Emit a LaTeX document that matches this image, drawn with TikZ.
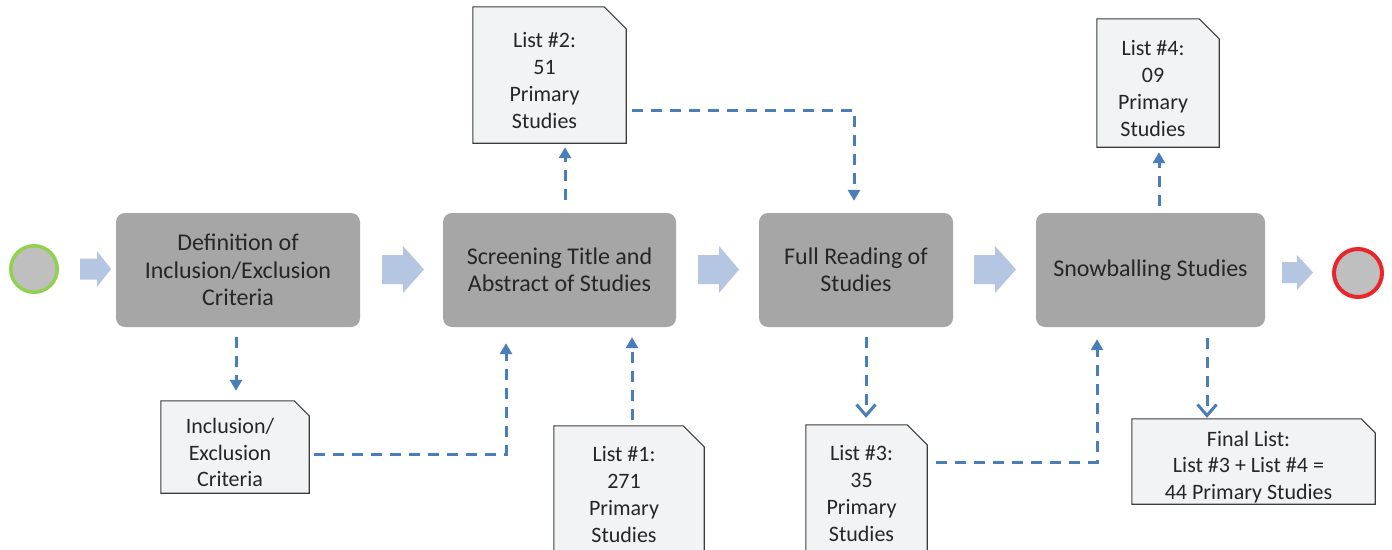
\documentclass[tikz,border=0pt]{standalone}
\usepackage{fontspec}
\setmainfont{Carlito}
\usetikzlibrary{arrows.meta,calc}
\pgfdeclarelayer{background}
\pgfsetlayers{background,main}

\definecolor{procfill}{HTML}{A6A6A6}
\definecolor{docfill}{HTML}{F2F3F5}
\definecolor{docline}{HTML}{3C3C3C}
\definecolor{flowblue}{HTML}{4A7EBB}
\definecolor{blockblue}{HTML}{B4C6E2}
\definecolor{startgreen}{HTML}{92D050}
\definecolor{endred}{HTML}{E8262B}
\definecolor{eventfill}{HTML}{BFBFBF}
\definecolor{inktext}{HTML}{262626}

\tikzset{
  procbox/.style={rectangle, rounded corners=9pt, fill=procfill, minimum height=114pt,
    inner sep=0pt, align=center, text=inktext, font=\fontsize{24}{27.5}\selectfont},
  docbox/.style={rectangle, inner sep=0pt},
  doctext/.style={align=center, text=inktext, font=\fontsize{22}{26.7}\selectfont,
    xshift=-5pt, yshift=-5.5pt, inner sep=0pt},
  docshape/.style={fill=docfill, draw=docline, line width=1.1pt, line join=miter},
  flow/.style={draw=flowblue, line width=3pt, dash pattern=on 11pt off 8pt,
    -{Triangle[length=11pt,width=12pt]}},
  flowopen/.style={draw=flowblue, line width=3pt, dash pattern=on 11pt off 8pt,
    -{Straight Barb[length=11pt,width=19pt]}},
  event/.style={circle, fill=eventfill, inner sep=0pt},
  blockarrow/.style={fill=blockblue},
}

% document symbol with a clipped top-right corner:
% name, centre x, centre y, width, height, corner size, text
\newcommand\listdoc[7]{%
  \node[docbox, minimum width=#4, minimum height=#5,
        label={[doctext, name=#1-t]center:{#7}}] (#1) at (#2,#3) {};
  \begin{pgfonlayer}{background}
    \path[docshape] (#1.south west) -- (#1.north west) -- ([xshift=-#6]#1.north east)
      -- ([yshift=-#6]#1.north east) -- (#1.south east) -- cycle;
  \end{pgfonlayer}
}

% block arrow: tail x, tip x, head start x, centre y, shaft half height, head half height
\newcommand\blockarr[6]{%
  \fill[blockarrow] (#1,#4-#5) -- (#3,#4-#5) -- (#3,#4-#6) -- (#2,#4)
    -- (#3,#4+#6) -- (#3,#4+#5) -- (#1,#4+#5) -- cycle;
}

\begin{document}
\begin{tikzpicture}[x=1pt, y=-1pt]
\useasboundingbox (0,0) rectangle (1392,549);
\clip (0,0) rectangle (1392,549);
\begin{pgfonlayer}{background}
  \fill[white] (0,0) rectangle (1392,549);
\end{pgfonlayer}

% start and end events
\node[event, draw=startgreen, line width=3.5pt, minimum size=46.5pt] (start) at (34,269) {};
\node[event, draw=endred, line width=4pt, minimum size=48pt] (end) at (1358,273) {};

% process steps
\node[procbox, minimum width=244pt] (b1) at (238,270) {Definition of\\Inclusion/Exclusion\\Criteria};
\node[procbox, minimum width=233pt] (b2) at (559.5,270) {Screening Title and\\Abstract of Studies};
\node[procbox, minimum width=194pt] (b3) at (856,270) {Full Reading of\\Studies};
\node[procbox, minimum width=229pt] (b4) at (1150.5,270) {Snowballing Studies};

% block arrows along the main flow
\blockarr{80}{111}{97}{269}{10.5}{18}
\blockarr{382}{424}{403}{269.5}{14.5}{23.5}
\blockarr{698}{739}{719}{269.5}{14.5}{23.5}
\blockarr{974}{1016}{995}{269.5}{14.5}{23.5}
\blockarr{1282}{1313}{1297}{272.5}{10.5}{17.5}

% documents
\listdoc{d1}{235}{447}{148}{92}{15}{Inclusion/\\Exclusion\\Criteria}
\listdoc{dl1}{629}{489}{150}{126}{21}{List \#1:\\271\\Primary\\Studies}
\listdoc{d2}{549.5}{75}{153}{136}{22}{List \#2:\\51\\Primary\\Studies}
\listdoc{dl3}{866.5}{488}{121}{126}{20}{List \#3:\\35\\Primary\\Studies}
\listdoc{d4}{1158}{83}{122}{128}{20}{List \#4:\\09\\Primary\\Studies}
\listdoc{df}{1253.5}{461.5}{243}{85}{14}{Final List:\\List \#3 + List \#4 =\\44 Primary Studies}

% dashed information flows
\draw[flow, shorten <=10pt, shorten >=10pt] ([xshift=-2pt]b1.south) -- ([xshift=-2pt]b1.south |- d1.north);
\draw[flow, shorten >=16pt] ([xshift=5pt,yshift=-7pt]d1.east) -| ([xshift=-53.5pt]b2.south);
\draw[flow, shorten <=6pt, shorten >=10pt] ([xshift=3pt]dl1.north) -- ([xshift=3pt]dl1.north |- b2.south);
\draw[flow, shorten <=13pt, shorten >=4pt] ([xshift=5.5pt]b2.north) -- ([xshift=5.5pt]b2.north |- d2.south);
\draw[flow, shorten >=12pt] ([xshift=6pt,yshift=-35pt]d2.east) -| ([xshift=-2pt]b3.north);
\draw[flowopen, shorten <=10pt, shorten >=7pt] ([xshift=10pt]b3.south) -- ([xshift=10pt]b3.south |- dl3.north);
\draw[flow, shorten >=12pt] ([xshift=9pt,yshift=26pt]dl3.east) -| ([xshift=-53.5pt]b4.south);
\draw[flow, shorten <=7pt, shorten >=5pt] ([xshift=8.5pt]b4.north) -- ([xshift=8.5pt]b4.north |- d4.south);
\draw[flowopen, shorten <=11pt, shorten >=1pt] ([xshift=56.5pt]b4.south) -- ([xshift=56.5pt]b4.south |- df.north);
\end{tikzpicture}
\end{document}
